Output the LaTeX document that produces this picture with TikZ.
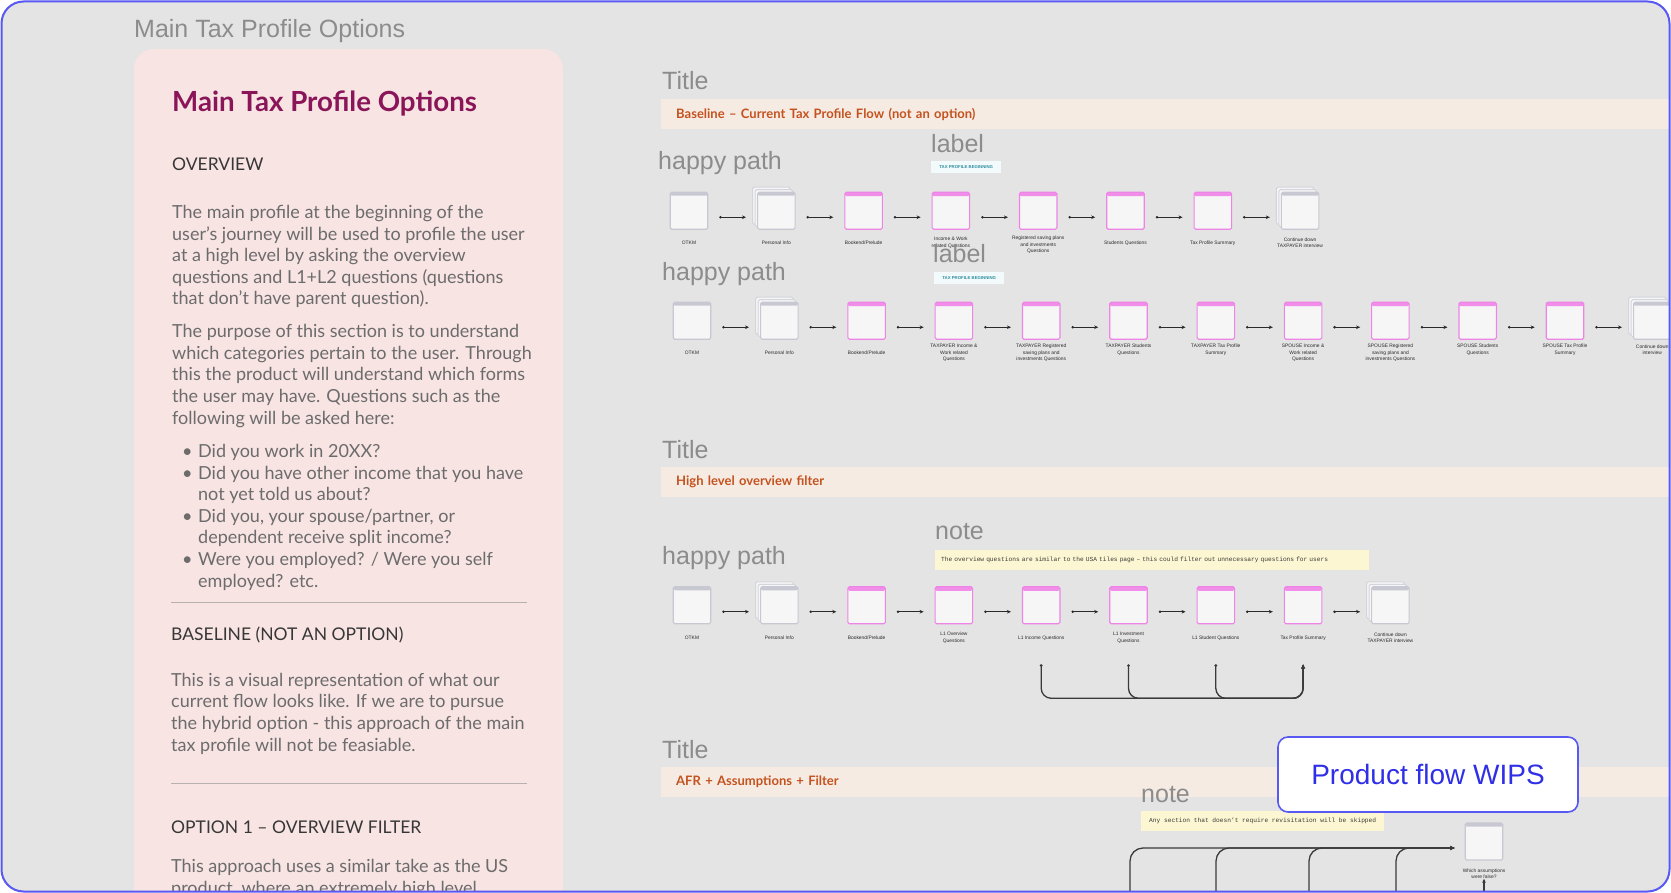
\documentclass[tikz,border=0pt]{standalone}
\usepackage{fontspec}
\setmainfont{Lato}
\newfontfamily\arialf{Liberation Sans}
\newfontfamily\monof{Liberation Mono}
\usetikzlibrary{arrows.meta,calc}
\definecolor{bggray}{HTML}{E4E4E4}
\definecolor{framec}{HTML}{5858F2}
\definecolor{panelc}{HTML}{F8E4E3}
\definecolor{ptitlec}{HTML}{8A1659}
\definecolor{headc}{HTML}{373737}
\definecolor{bodyc}{HTML}{6C6C6C}
\definecolor{sepc}{HTML}{B8AFAF}
\definecolor{glc}{HTML}{8C8C8C}
\definecolor{bandc}{HTML}{F6EBE3}
\definecolor{bandtc}{HTML}{C4521E}
\definecolor{tagfc}{HTML}{F2FAFB}
\definecolor{tagtc}{HTML}{2E8FA0}
\definecolor{notefc}{HTML}{FCF7D2}
\definecolor{notetc}{HTML}{3A3A3A}
\definecolor{scrfill}{HTML}{F6F6F6}
\definecolor{scrgray}{HTML}{C8C8D2}
\definecolor{stackb}{HTML}{D4D4DC}
\definecolor{pinkb}{HTML}{EE84E6}
\definecolor{pinkh}{HTML}{F08EE9}
\definecolor{arrc}{HTML}{2A2A2A}
\definecolor{loopc}{HTML}{3A3A3A}
\definecolor{wipsc}{HTML}{2F2FE6}
\tikzset{
  screen/.style={draw=scrgray, fill=scrfill, line width=1.1pt, minimum width=37.5pt, minimum height=37pt, inner sep=0pt, rounded corners=1.5pt,
    path picture={\fill[scrgray] (path picture bounding box.north west) rectangle ([yshift=-3.5pt]path picture bounding box.north east);}},
  pscreen/.style={screen, draw=pinkb,
    path picture={\fill[pinkh] (path picture bounding box.north west) rectangle ([yshift=-4pt]path picture bounding box.north east);}},
  stackscr/.style={screen,
    preaction={draw=stackb, fill=scrfill, line width=1pt, transform canvas={shift={(-5pt,5pt)}}},
    preaction={draw=stackb, fill=scrfill, line width=1pt, transform canvas={shift={(-2.5pt,2.5pt)}}}},
  scrlbl/.style={font=\arialf\fontsize{4.9}{6.4}\selectfont, text=arrc, align=center, inner sep=0pt},
  flowarr/.style={draw=arrc, line width=0.9pt, {Circle[length=2.4pt]}-{Stealth[length=4pt,width=3.6pt]}, shorten <=11pt, shorten >=11pt},
  loopline/.style={draw=loopc, line width=1.3pt, rounded corners=10pt},
  glbl/.style={font=\arialf\fontsize{25}{30}\selectfont, text=glc, inner sep=0pt, anchor=west},
  band/.style={fill=bandc, anchor=north west, minimum width=1010pt, minimum height=30pt, text width=980pt, inner xsep=15pt, inner ysep=0pt, align=left, font=\bfseries\fontsize{13}{15}\selectfont, text=bandtc},
  tagbox/.style={fill=tagfc, anchor=north west, minimum width=70pt, minimum height=12pt, inner sep=0pt, font=\arialf\bfseries\fontsize{4.3}{5}\selectfont, text=tagtc},
  notebox/.style={fill=notefc, anchor=north west, minimum height=20pt, inner xsep=6pt, inner ysep=0pt, font=\monof\fontsize{6.2}{7}\selectfont, text=notetc},
  body/.style={font=\fontsize{18}{21.6}\selectfont, text=bodyc, align=left, inner sep=0pt, anchor=base west},
  headtxt/.style={font=\fontsize{17.5}{20}\selectfont, text=headc, inner sep=0pt, anchor=base west},
}
\begin{document}
\begin{tikzpicture}[x=1pt,y=-1pt]
\useasboundingbox (0,0) rectangle (1671,893);
\fill[white] (0,0) rectangle (1671,893);
\begin{scope}
\clip[rounded corners=22pt] (1.5,1.5) rectangle (1669.5,891.5);
\fill[bggray] (0,0) rectangle (1671,893);

% ---------- left panel ----------
\node[glbl] (hdr) at (134,31) {Main Tax Profile Options};
\fill[panelc, rounded corners=20pt] (134,49) rectangle (563,960);
\node[font=\bfseries\fontsize{27.7}{30}\selectfont, text=ptitlec, inner sep=0pt, anchor=base west] (ptitle) at (172,111.5) {Main Tax Profile Options};
\node[headtxt] (h1) at (172,171) {OVERVIEW};
% base anchor of a multi-line node = baseline of its last line
\node[body] (p1) at (172,305) {The main profile at the beginning of the\\user’s journey will be used to profile the user\\at a high level by asking the overview\\questions and L1+L2 questions (questions\\that don’t have parent question).};
\node[body] (p2) at (172,424) {The purpose of this section is to understand\\which categories pertain to the user. Through\\this the product will understand which forms\\the user may have. Questions such as the\\following will be asked here:};
\node[body] (p3) at (182,587) {\makebox[16pt][l]{•}Did you work in 20XX?\\\makebox[16pt][l]{•}Did you have other income that you have\\\hspace*{16pt}not yet told us about?\\\makebox[16pt][l]{•}Did you, your spouse/partner, or\\\hspace*{16pt}dependent receive split income?\\\makebox[16pt][l]{•}Were you employed? / Were you self\\\hspace*{16pt}employed? etc.};
\draw[sepc, line width=1pt] (171,602) -- (527,602);
\node[headtxt] (h2) at (171,640) {BASELINE (NOT AN OPTION)};
\node[body] (p4) at (171,751) {This is a visual representation of what our\\current flow looks like. If we are to pursue\\the hybrid option - this approach of the main\\tax profile will not be feasiable.};
\draw[sepc, line width=1pt] (171,783) -- (527,783);
\node[headtxt] (h3) at (171,833) {OPTION 1 – OVERVIEW FILTER};
\node[body] (p5) at (171,894) {This approach uses a similar take as the US\\product, where an extremely high level};

% ---------- section 1 ----------
\node[glbl] (t1) at (662,81) {Title};
\node[band] (band1) at (661,99) {Baseline – Current Tax Profile Flow (not an option)};
\node[glbl] (hp1) at (658,163) {happy path};
\node[glbl] (lb1) at (931,144) {label};
\node[tagbox] (tag1) at (931,161) {TAX PROFILE BEGINNING};

\node[screen]   (a0) at (689,210.75) {};
\node[stackscr] (a1) at (776.3,210.75) {};
\node[pscreen]  (a2) at (863.6,210.75) {};
\node[pscreen]  (a3) at (950.9,210.75) {};
\node[pscreen]  (a4) at (1038.2,210.75) {};
\node[pscreen]  (a5) at (1125.5,210.75) {};
\node[pscreen]  (a6) at (1212.8,210.75) {};
\node[stackscr] (a7) at (1300.1,210.75) {};
\node[scrlbl] (la0) at ($(a0.south)+(0,13)$) {OTKM};
\node[scrlbl] (la1) at ($(a1.south)+(0,13)$) {Personal Info};
\node[scrlbl] (la2) at ($(a2.south)+(0,13)$) {Bookend/Prelude};
\node[scrlbl] (la3) at ($(a3.south)+(0,13)$) {Income \& Work\\related Questions};
\node[scrlbl] (la4) at ($(a4.south)+(0,15)$) {Registered saving plans\\and investments\\Questions};
\node[scrlbl] (la5) at ($(a5.south)+(0,13)$) {Students Questions};
\node[scrlbl] (la6) at ($(a6.south)+(0,13)$) {Tax Profile Summary};
\node[scrlbl] (la7) at ($(a7.south)+(0,13)$) {Continue down\\TAXPAYER interview};
\foreach \p/\q in {a0/a1,a1/a2,a2/a3,a3/a4,a4/a5,a5/a6,a6/a7}
  \draw[flowarr] ([yshift=-6.5pt]\p.east) -- ([yshift=-6.5pt]\q.west);

% ---------- section 1, second row ----------
\node[glbl] (hp2) at (662,274) {happy path};
\node[glbl] (lb2) at (933,254) {label};
\node[tagbox] (tag2) at (934,272) {TAX PROFILE BEGINNING};

\node[screen]   (b0) at (692,320.75) {};
\node[stackscr] (b1) at (779.3,320.75) {};
\node[pscreen]  (b2) at (866.6,320.75) {};
\node[pscreen]  (b3) at (953.9,320.75) {};
\node[pscreen]  (b4) at (1041.2,320.75) {};
\node[pscreen]  (b5) at (1128.5,320.75) {};
\node[pscreen]  (b6) at (1215.8,320.75) {};
\node[pscreen]  (b7) at (1303.1,320.75) {};
\node[pscreen]  (b8) at (1390.4,320.75) {};
\node[pscreen]  (b9) at (1477.7,320.75) {};
\node[pscreen]  (b10) at (1565,320.75) {};
\node[stackscr] (b11) at (1652.3,320.75) {};
\node[scrlbl] (lb0) at ($(b0.south)+(0,13)$) {OTKM};
\node[scrlbl] (lbb1) at ($(b1.south)+(0,13)$) {Personal Info};
\node[scrlbl] (lbb2) at ($(b2.south)+(0,13)$) {Bookend/Prelude};
\node[scrlbl] (lbb3) at ($(b3.south)+(0,13)$) {TAXPAYER Income \&\\Work related\\Questions};
\node[scrlbl] (lbb4) at ($(b4.south)+(0,13)$) {TAXPAYER Registered\\saving plans and\\investments Questions};
\node[scrlbl] (lbb5) at ($(b5.south)+(0,10)$) {TAXPAYER Students\\Questions};
\node[scrlbl] (lbb6) at ($(b6.south)+(0,10)$) {TAXPAYER Tax Profile\\Summary};
\node[scrlbl] (lbb7) at ($(b7.south)+(0,13)$) {SPOUSE Income \&\\Work related\\Questions};
\node[scrlbl] (lbb8) at ($(b8.south)+(0,13)$) {SPOUSE Registered\\saving plans and\\investments Questions};
\node[scrlbl] (lbb9) at ($(b9.south)+(0,10)$) {SPOUSE Students\\Questions};
\node[scrlbl] (lbb10) at ($(b10.south)+(0,10)$) {SPOUSE Tax Profile\\Summary};
\node[scrlbl] (lbb11) at ($(b11.south)+(0,10)$) {Continue down\\interview};
\foreach \p/\q in {b0/b1,b1/b2,b2/b3,b3/b4,b4/b5,b5/b6,b6/b7,b7/b8,b8/b9,b9/b10,b10/b11}
  \draw[flowarr] ([yshift=-6.5pt]\p.east) -- ([yshift=-6.5pt]\q.west);

% ---------- section 2 ----------
\node[glbl] (t2) at (662,450) {Title};
\node[band] (band2) at (661,467) {High level overview filter};
\node[glbl] (nt1) at (935,532) {note};
\node[notebox, minimum width=434pt, text width=422pt, align=left] (note1) at (935,550) {The overview questions are similar to the USA tiles page – this could filter out unnecessary questions for users};
\node[glbl] (hp3) at (662,558) {happy path};

\node[screen]   (c0) at (692,605.25) {};
\node[stackscr] (c1) at (779.3,605.25) {};
\node[pscreen]  (c2) at (866.6,605.25) {};
\node[pscreen]  (c3) at (953.9,605.25) {};
\node[pscreen]  (c4) at (1041.2,605.25) {};
\node[pscreen]  (c5) at (1128.5,605.25) {};
\node[pscreen]  (c6) at (1215.8,605.25) {};
\node[pscreen]  (c7) at (1303.1,605.25) {};
\node[stackscr] (c8) at (1390.4,605.25) {};
\node[scrlbl] (lc0) at ($(c0.south)+(0,13.5)$) {OTKM};
\node[scrlbl] (lc1) at ($(c1.south)+(0,13.5)$) {Personal Info};
\node[scrlbl] (lc2) at ($(c2.south)+(0,13.5)$) {Bookend/Prelude};
\node[scrlbl] (lc3) at ($(c3.south)+(0,13.5)$) {L1 Overview\\Questions};
\node[scrlbl] (lc4) at ($(c4.south)+(0,13.5)$) {L1 Income Questions};
\node[scrlbl] (lc5) at ($(c5.south)+(0,13.5)$) {L1 Investment\\Questions};
\node[scrlbl] (lc6) at ($(c6.south)+(0,13.5)$) {L1 Student Questions};
\node[scrlbl] (lc7) at ($(c7.south)+(0,13.5)$) {Tax Profile Summary};
\node[scrlbl] (lc8) at ($(c8.south)+(0,13.5)$) {Continue down\\TAXPAYER interview};
\foreach \p/\q in {c0/c1,c1/c2,c2/c3,c3/c4,c4/c5,c5/c6,c6/c7,c7/c8}
  \draw[flowarr] ([yshift=-6.5pt]\p.east) -- ([yshift=-6.5pt]\q.west);

\coordinate (k4) at ($(c4.south)+(0,40)$);
\coordinate (k5) at ($(c5.south)+(0,40)$);
\coordinate (k6) at ($(c6.south)+(0,40)$);
\coordinate (k7) at ($(c7.south)+(0,40)$);
\coordinate (m7) at ($(c7.south)+(0,74)$);
\foreach \s in {k4,k5,k6}
  \draw[loopline, {Circle[length=2.6pt]}-{Stealth[length=4.5pt,width=4pt]}] (\s) |- (m7) -- (k7);

% ---------- section 3 ----------
\node[glbl] (t3) at (662,750) {Title};
\node[band] (band3) at (661,767) {AFR + Assumptions + Filter};
\node[glbl] (nt2) at (1141,795) {note};
\node[notebox, minimum width=243pt] (note2) at (1141,811) {Any section that doesn’t require revisitation will be skipped};

\node[screen] (wa) at (1484,841.5) {};
\node[scrlbl] (wl) at ($(wa.south)+(0,13)$) {Which assumptions\\were false?};
\coordinate (wt) at ([yshift=-6.5pt]wa.west);
\coordinate (v1) at (1130,905);
\coordinate (v2) at (1216,905);
\coordinate (v3) at (1309,905);
\coordinate (v4) at (1396,905);
\coordinate (v5) at (1484,905);
\foreach \s in {v1,v2,v3,v4}
  \draw[loopline, rounded corners=13pt, -{Stealth[length=4.5pt,width=4pt]}, shorten >=10pt] (\s) |- (wt);
\draw[draw=loopc, line width=1.2pt, -{Stealth[length=4pt,width=3.6pt]}] (v5) -- (wl.south);

% ---------- overlay ----------
\node[draw=framec, line width=1.6pt, fill=white, rounded corners=10pt, minimum width=300pt, minimum height=75pt, font=\arialf\fontsize{28}{32}\selectfont, text=wipsc] (wips) at (1428,774.5) {Product flow WIPS};
\end{scope}
\draw[framec, line width=2pt, rounded corners=22pt] (1.5,1.5) rectangle (1669.5,891.5);
\end{tikzpicture}
\end{document}
